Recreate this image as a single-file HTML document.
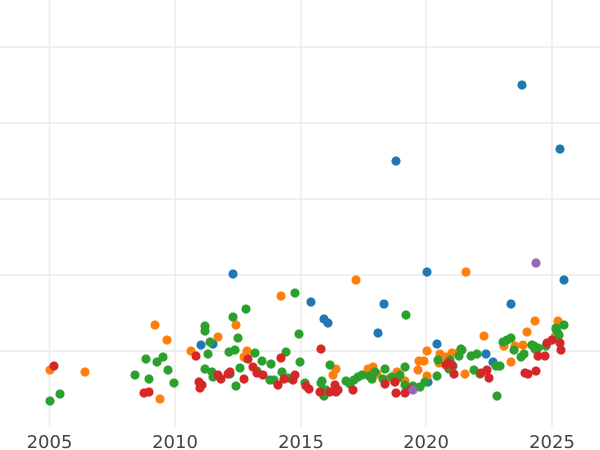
<!DOCTYPE html>
<html><head><meta charset="utf-8"><style>
body{margin:0;background:#fff}
svg{display:block}
text{font-family:"DejaVu Sans","Liberation Sans",sans-serif;font-size:18px;fill:#444}
</style></head><body>
<svg width="600" height="450" viewBox="0 0 600 450">
<g stroke="#ebebeb" stroke-width="1.5">
<line x1="0" x2="600" y1="47" y2="47"/><line x1="0" x2="600" y1="123" y2="123"/>
<line x1="0" x2="600" y1="199" y2="199"/><line x1="0" x2="600" y1="275" y2="275"/>
<line x1="0" x2="600" y1="351" y2="351"/>
<line x1="49.5" x2="49.5" y1="0" y2="427"/><line x1="175" x2="175" y1="0" y2="427"/>
<line x1="301" x2="301" y1="0" y2="427"/><line x1="426" x2="426" y1="0" y2="427"/>
<line x1="552" x2="552" y1="0" y2="427"/>
</g>
<g text-anchor="middle">
<text x="49.5" y="448">2005</text><text x="175" y="448">2010</text>
<text x="301" y="448">2015</text><text x="426" y="448">2020</text><text x="552" y="448">2025</text>
</g>
<g id="pts"></g>
</svg>
<script>
var C={b:"#1f77b4",o:"#ff7f0e",g:"#2ca02c",r:"#d62728",p:"#9467bd"};
var P={
g:[[50,401],[60,394],[135,375],[146,359],[149,379],[157,362],[163,357],[168,370],[174,383],[205,326],[205,331],[208,354],[210,342],[205,369],[212,372],[213,377],[229,352],[235,350],[238,338],[233,317],[246,309],[236,386],[230,374],[240,368],[255,353],[262,361],[257,371],[271,364],[274,380],[270,380],[282,372],[286,352],[288,378],[295,293],[299,334],[300,362],[305,383],[322,381],[324,396],[326,390],[330,365],[321,383],[346,381],[350,384],[354,380],[358,377],[362,375],[369,376],[375,372],[372,379],[383,379],[385,369],[392,377],[400,375],[398,378],[405,367],[405,385],[406,315],[413,386],[420,387],[425,382],[438,360],[437,376],[449,369],[450,360],[453,366],[459,356],[461,349],[462,350],[471,356],[474,370],[477,354],[480,374],[497,396],[496,366],[500,366],[503,342],[507,340],[511,338],[514,350],[521,357],[524,354],[532,345],[534,346],[538,348],[556,328],[557,331],[559,335],[564,325],[546,346],[535,349]],
o:[[50,370],[85,372],[155,325],[160,399],[167,340],[191,351],[218,337],[236,325],[244,357],[247,351],[281,296],[333,375],[336,369],[350,383],[356,280],[368,369],[373,367],[377,374],[390,378],[397,372],[405,381],[418,370],[419,361],[424,361],[427,351],[427,376],[439,363],[440,354],[446,357],[452,353],[459,352],[466,272],[465,374],[484,336],[504,346],[511,362],[515,346],[523,345],[527,332],[535,321],[558,321],[555,337]],
r:[[54,366],[144,393],[149,392],[196,356],[199,382],[200,388],[202,385],[218,375],[221,379],[230,372],[228,374],[244,379],[248,359],[253,367],[257,373],[263,375],[278,385],[284,379],[281,358],[295,375],[293,380],[306,386],[309,389],[321,349],[320,392],[330,392],[335,385],[338,390],[336,392],[353,390],[385,384],[395,382],[396,393],[405,393],[411,389],[446,365],[452,365],[454,374],[448,363],[481,373],[487,370],[489,378],[525,373],[528,374],[538,356],[545,356],[547,343],[552,340],[561,350],[560,343],[536,371]],
b:[[201,345],[213,344],[233,274],[246,358],[311,302],[324,319],[328,323],[378,333],[384,304],[396,161],[427,272],[428,382],[437,344],[486,354],[493,362],[511,304],[522,85],[560,149],[564,280],[556,329]],
p:[[413,390],[536,263]]};
var g=document.getElementById("pts"),s="";
for(var k of ["b","o","g","r","p"])for(var q of P[k])s+='<circle cx="'+q[0]+'" cy="'+q[1]+'" r="4.6" fill="'+C[k]+'"/>';
g.innerHTML=s;
</script>
</body></html>
